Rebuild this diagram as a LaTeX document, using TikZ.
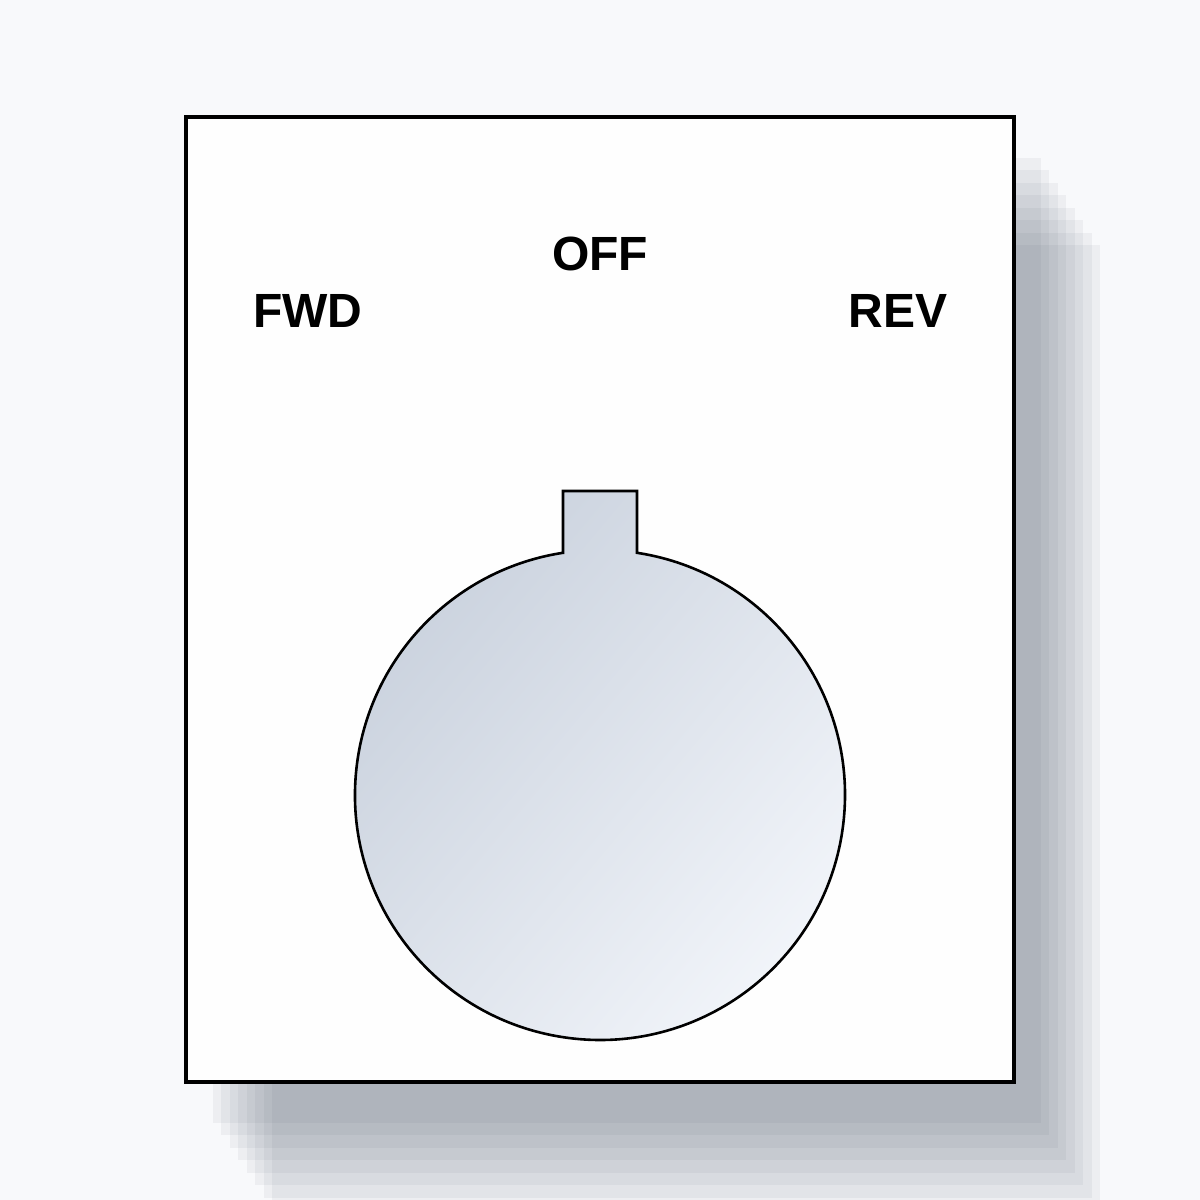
\documentclass[tikz,border=0pt]{standalone}
\usepackage{fontspec}
\setmainfont{Liberation Sans}
\begin{document}
\begin{tikzpicture}[x=1pt,y=1pt,
  label/.style={font=\fontsize{48}{50}\selectfont\bfseries, inner sep=0pt, anchor=center},
  shadowlayer/.style={fill={rgb,255:red,66;green,76;blue,96}, fill opacity=0.06, draw=none}]
\definecolor{bg}{HTML}{F8F9FB}
\definecolor{knobA}{HTML}{C9D1DD}
\definecolor{knobB}{HTML}{F2F5FA}
\useasboundingbox (0,0) rectangle (1200,1200);
\clip (0,0) rectangle (1200,1200);
\fill[bg] (0,0) rectangle (1200,1200);
% stepped drop shadow
\foreach \k in {0,...,7}{
  \fill[shadowlayer, xshift={27+\k*8.43}, yshift={-41-\k*12.43}] (186,118) rectangle (1014,1083);
}
% plate
\draw[line width=3.2pt, fill={rgb,255:red,254;green,254;blue,254}] (186,118) rectangle (1014,1083);
% knob with tab
\shade[top color=knobA, bottom color=knobB, shading angle=50]
  (563,647.19) -- (563,709) -- (637,709) -- (637,647.19)
  arc[start angle=81.31, end angle=-261.31, radius=245] -- cycle;
\draw[line width=2.6pt, line join=miter]
  (563,647.19) -- (563,709) -- (637,709) -- (637,647.19)
  arc[start angle=81.31, end angle=-261.31, radius=245] -- cycle;
% labels
\node[label] (off) at (600,946) {OFF};
\node[label] (fwd) at (308,889) {FWD};
\node[label] (rev) at (898,889) {REV};
\end{tikzpicture}
\end{document}
